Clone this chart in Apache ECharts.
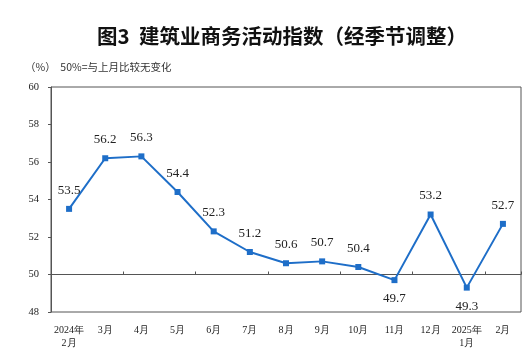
<!DOCTYPE html>
<html><head><meta charset="utf-8">
<script src="https://cdn.jsdelivr.net/npm/echarts@6/dist/echarts.min.js"></script>
<style>html,body{margin:0;padding:0;background:#fff}#c{width:532px;height:357px}</style>
</head><body><div id="c"></div>
<script>
const categories = ['2024年\n2月','3月','4月','5月','6月','7月','8月','9月','10月','11月','12月','2025年\n1月','2月'];
const values = [53.5,56.2,56.3,54.4,52.3,51.2,50.6,50.7,50.4,49.7,53.2,49.3,52.7];
const belowIdx = [9, 11];
const yTicks = [48,50,52,54,56,58,60];

const chart = echarts.init(document.getElementById('c'), null, {renderer:'canvas'});
const serif = '"Liberation Serif","DejaVu Serif",serif';
chart.setOption({
  animation:false,
  backgroundColor:'#fff',
  graphic:[
    {type:'text', left:97, top:26, style:{text:'图3  建筑业商务活动指数（经季节调整）', font:'bold 20.5px "Noto Sans CJK SC"', fill:'#111'}},
    {type:'text', left:25, top:62, style:{text:'（%）  50%=与上月比较无变化', font:'10.5px "Noto Sans CJK SC"', fill:'#333'}}
  ],
  grid:{left:51, right:11, top:87, bottom:45, show:true, borderColor:'#555', borderWidth:1, backgroundColor:'transparent'},
  xAxis:[{
    type:'category', data:categories, boundaryGap:true,
    axisLine:{show:false}, axisTick:{show:false},
    axisLabel:{color:'#222', fontFamily:serif, fontSize:10, margin:12, lineHeight:13, interval:0}
  },{
    type:'category', data:categories, boundaryGap:true, position:'bottom', offset:-37.5,
    axisLine:{show:true, lineStyle:{color:'#555', width:1}},
    axisTick:{show:true, inside:true, length:3, lineStyle:{color:'#555'}},
    axisLabel:{show:false}
  }],
  yAxis:{
    type:'value', min:48, max:60, interval:2,
    axisLine:{show:true, lineStyle:{color:'#555'}},
    axisTick:{show:true, length:3, lineStyle:{color:'#555'}},
    splitLine:{show:false},
    axisLabel:{color:'#222', fontFamily:serif, fontSize:10.5, margin:12}
  },
  series:[{
    type:'line', data:values.map((v,i)=>({value:v, label:{position: belowIdx.includes(i)?'bottom':'top'}})),
    xAxisIndex:0,
    symbol:'rect', symbolSize:6,
    lineStyle:{color:'#1e6ec8', width:2},
    itemStyle:{color:'#1e6ec8'},
    label:{show:true, fontFamily:serif, fontSize:13, color:'#222', distance:9, formatter:p=>p.value.toFixed(1)}
  }]
});
</script></body></html>
